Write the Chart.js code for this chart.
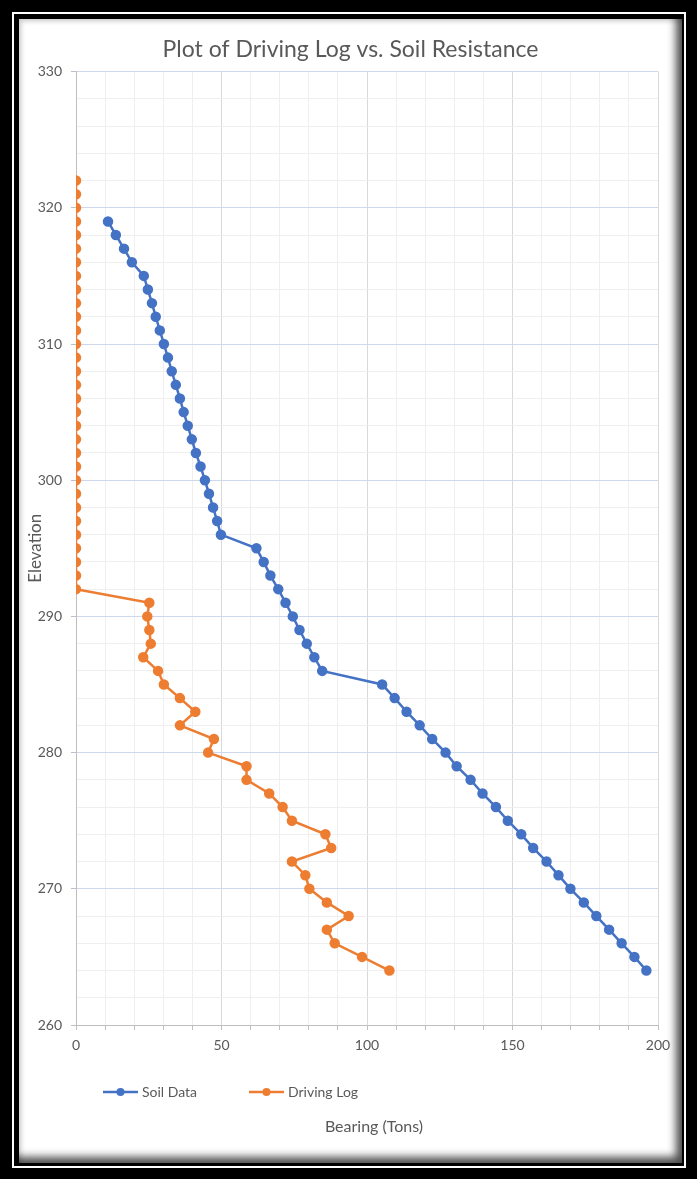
<!DOCTYPE html>
<html>
<head>
<meta charset="utf-8">
<title>Plot of Driving Log vs. Soil Resistance</title>
<script src="https://cdn.jsdelivr.net/npm/chart.js@4.4.1/dist/chart.umd.min.js"></script>
<style>
  html, body { margin: 0; padding: 0; background: #000; }
  body { width: 697px; height: 1179px; position: relative; overflow: hidden; }
  #frame { position: absolute; left: 12px; top: 12px; width: 670px; height: 1152px; border: 2px solid #fff; }
  #card {
    position: absolute; left: 19px; top: 19px; width: 663px; height: 1144px; background: #fff;
    box-shadow: inset -9px -9px 9px -3px rgba(0,0,0,0.7), inset 3px 3px 5px -1px rgba(0,0,0,0.22);
  }
  #card canvas { position: absolute; left: 0; top: 0; }
</style>
</head>
<body>
<div id="frame"></div>
<div id="card"><canvas id="chart" width="663" height="1144"></canvas></div>
<script>
// Soil resistance profile: elevation (ft) and bearing (tons)
const soilElevation = [319, 318, 317, 316, 315, 314, 313, 312, 311, 310,
  309, 308, 307, 306, 305, 304, 303, 302, 301, 300,
  299, 298, 297, 296, 295, 294, 293, 292, 291, 290,
  289, 288, 287, 286, 285, 284, 283, 282, 281, 280,
  279, 278, 277, 276, 275, 274, 273, 272, 271, 270,
  269, 268, 267, 266, 265, 264];
const soilBearing = [11.0, 13.7, 16.5, 19.2, 23.3, 24.7, 26.1, 27.4, 28.8, 30.2,
  31.6, 32.9, 34.3, 35.7, 37.0, 38.4, 39.8, 41.2, 42.8, 44.3,
  45.7, 47.1, 48.5, 49.8, 62.0, 64.5, 66.8, 69.5, 72.0, 74.5,
  76.8, 79.3, 81.9, 84.6, 105.2, 109.5, 113.6, 118.1, 122.4, 127.0,
  130.8, 135.6, 139.7, 144.3, 148.4, 153.0, 157.1, 161.7, 165.8, 169.9,
  174.5, 178.8, 183.2, 187.5, 191.9, 196.0];

// Pile driving log: elevation (ft) and bearing (tons)
const logElevation = [322, 321, 320, 319, 318, 317, 316, 315, 314, 313,
  312, 311, 310, 309, 308, 307, 306, 305, 304, 303,
  302, 301, 300, 299, 298, 297, 296, 295, 294, 293,
  292, 291, 290, 289, 288, 287, 286, 285, 284, 283,
  282, 281, 280, 279, 278, 277, 276, 275, 274, 273,
  272, 271, 270, 269, 268, 267, 266, 265, 264];
const logBearing = [0, 0, 0, 0, 0, 0, 0, 0, 0, 0,
  0, 0, 0, 0, 0, 0, 0, 0, 0, 0,
  0, 0, 0, 0, 0, 0, 0, 0, 0, 0,
  0, 25.2, 24.5, 25.2, 25.7, 23.1, 28.2, 30.2, 35.7, 41.0,
  35.7, 47.4, 45.4, 58.6, 58.6, 66.4, 71.0, 74.2, 85.7, 87.7,
  74.2, 78.8, 80.2, 86.2, 93.7, 86.2, 88.9, 98.3, 107.7];

// Labelled ticks; the other grid steps are unlabelled minor lines
const bearingTickLabels = [0, 50, 100, 150, 200];
const elevationTickLabels = [260, 270, 280, 290, 300, 310, 320, 330];

const seriesNames = ['Soil Data', 'Driving Log'];
const seriesColors = ['#4472C4', '#ED7D31'];

const FONT = 'Lato, "Open Sans", sans-serif';
const TEXT = '#595959';

function pairs(xs, ys) {
  return xs.map((x, i) => ({ x: x, y: ys[i] }));
}

// Legend (line + marker) and horizontal axis caption below it
const bottomCaptions = {
  id: 'bottomCaptions',
  afterDraw(chart) {
    const ctx = chart.ctx;
    const area = chart.chartArea;
    const y = area.bottom + 67;
    const starts = [84, 230];
    ctx.save();
    ctx.font = '14px ' + FONT;
    ctx.textBaseline = 'middle';
    ctx.textAlign = 'left';
    chart.data.datasets.forEach((ds, i) => {
      const x0 = starts[i];
      ctx.strokeStyle = ds.borderColor;
      ctx.lineWidth = 2.5;
      ctx.beginPath();
      ctx.moveTo(x0, y);
      ctx.lineTo(x0 + 35, y);
      ctx.stroke();
      ctx.fillStyle = ds.backgroundColor;
      ctx.beginPath();
      ctx.arc(x0 + 17.5, y, 4, 0, Math.PI * 2);
      ctx.fill();
      ctx.fillStyle = TEXT;
      ctx.fillText(ds.label, x0 + 39, y);
    });
    ctx.font = '16px ' + FONT;
    ctx.textAlign = 'center';
    ctx.fillText('Bearing (Tons)', 355, area.bottom + 102);
    ctx.restore();
  }
};

new Chart(document.getElementById('chart'), {
  type: 'scatter',
  data: {
    datasets: [
      {
        label: seriesNames[0],
        data: pairs(soilBearing, soilElevation),
        showLine: true,
        borderColor: seriesColors[0],
        backgroundColor: seriesColors[0],
        borderWidth: 2.5,
        pointRadius: 4,
        pointHoverRadius: 4,
        tension: 0
      },
      {
        label: seriesNames[1],
        data: pairs(logBearing, logElevation),
        showLine: true,
        borderColor: seriesColors[1],
        backgroundColor: seriesColors[1],
        borderWidth: 2.5,
        pointRadius: 4,
        pointHoverRadius: 4,
        tension: 0
      }
    ]
  },
  options: {
    responsive: false,
    animation: false,
    events: [],
    layout: { padding: { left: 0, right: 0, top: 0, bottom: 98 } },
    plugins: {
      legend: { display: false },
      tooltip: { enabled: false },
      title: {
        display: true,
        text: 'Plot of Driving Log vs. Soil Resistance',
        color: TEXT,
        font: { family: FONT, size: 23, weight: 'normal' },
        padding: { top: 17, bottom: 8 }
      }
    },
    scales: {
      x: {
        type: 'linear',
        min: 0,
        max: 200,
        afterFit(scale) { scale.height = 40; },
        ticks: {
          stepSize: 10,
          autoSkip: false,
          maxRotation: 0,
          padding: 7,
          color: TEXT,
          font: { family: FONT, size: 14 },
          callback: v => bearingTickLabels.includes(v) ? String(v) : ''
        },
        grid: {
          color: c => (c.tick && c.tick.value % 50 === 0) ? '#d9d9d9' : '#efefef',
          lineWidth: 1,
          tickLength: 5,
          tickColor: '#bfbfbf'
        },
        border: { color: '#bfbfbf', width: 1 }
      },
      y: {
        type: 'linear',
        min: 260,
        max: 330,
        afterFit(scale) { scale.width = 57; },
        ticks: {
          stepSize: 2,
          autoSkip: false,
          padding: 9,
          color: TEXT,
          font: { family: FONT, size: 14 },
          callback: v => elevationTickLabels.includes(v) ? String(v) : ''
        },
        grid: {
          color: c => (c.tick && c.tick.value % 10 === 0) ? '#cdd8ec' : '#efefef',
          lineWidth: 1,
          tickLength: 5,
          tickColor: c => (c.tick && c.tick.value % 10 === 0) ? '#bfbfbf' : 'rgba(0,0,0,0)'
        },
        border: { color: '#bfbfbf', width: 1 },
        title: {
          display: true,
          text: 'Elevation',
          color: TEXT,
          font: { family: FONT, size: 17 },
          padding: { top: 6, bottom: 0 }
        }
      },
      // empty right-hand margin axis, keeps the plot clear of the card edge
      yMargin: {
        type: 'linear',
        position: 'right',
        min: 260,
        max: 330,
        afterFit(scale) { scale.width = 24; },
        ticks: { display: false },
        grid: { display: false, drawTicks: false },
        border: { display: false }
      }
    }
  },
  plugins: [bottomCaptions]
});
</script>
</body>
</html>
